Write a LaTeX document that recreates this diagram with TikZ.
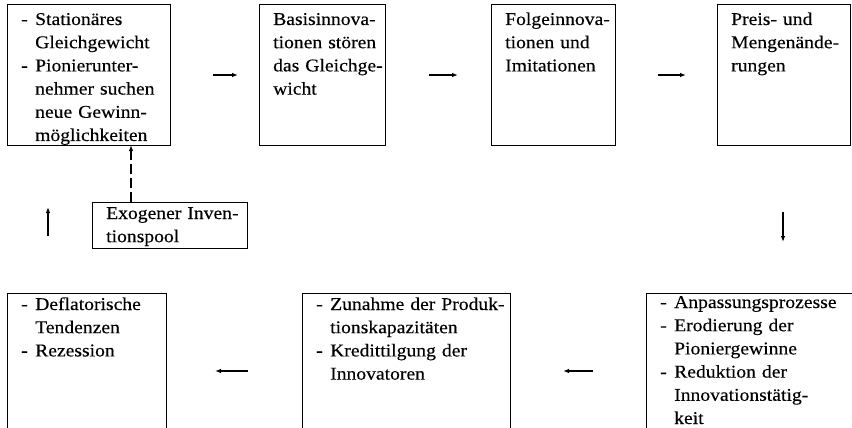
\documentclass[tikz,border=0pt]{standalone}
\usepackage{fontspec}
\setmainfont[FakeBold=0.3, FakeStretch=1.09]{Liberation Serif}
\usetikzlibrary{arrows.meta,calc}
\newcommand\dsh{\makebox[14pt][l]{-}}
\newcommand\ind{\hspace*{14pt}}
\begin{document}
\begin{tikzpicture}[x=1pt,y=-1pt,
  box/.style={draw, line width=1pt, anchor=north west, inner sep=0pt, outer sep=0pt},
  txt/.style={anchor=base west, inner sep=0pt, align=left, text width=#1,
    font=\fontsize{18}{23.2}\selectfont},
  txt/.default=210pt,
  arr/.style={line width=1.1pt, -{Latex[length=6pt,width=4.5pt]}},
  dsharr/.style={arr, dash pattern=on 10pt off 4pt}]
\useasboundingbox (0,0) rectangle (852,428);
% top row
\node[box, minimum width=163pt, minimum height=140pt] (b1) at (7,5) {};
\node[box, minimum width=126pt, minimum height=140pt] (b2) at (259,5) {};
\node[box, minimum width=124pt, minimum height=140pt] (b3) at (491,5) {};
\node[box, minimum width=133pt, minimum height=140pt] (b4) at (717,5) {};
\node[txt] (t1) at (21,25) {\dsh Stationäres\\ \ind Gleichgewicht\\ \dsh Pionierunter-\\ \ind nehmer suchen\\ \ind neue Gewinn-\\ \ind möglichkeiten};
\node[txt] (t2) at (273,25) {Basisinnova-\\tionen stören\\das Gleichge-\\wicht};
\node[txt] (t3) at (505,25) {Folgeinnova-\\tionen und\\Imitationen};
\node[txt] (t4) at (731,25) {Preis- und\\Mengenände-\\rungen};
% middle
\node[box, minimum width=155pt, minimum height=46pt] (exo) at (92,202) {};
\node[txt] (t5) at (106,219) {Exogener Inven-\\tionspool};
% bottom row
\node[box, minimum width=159pt, minimum height=150pt] (b5) at (7,293) {};
\node[box, minimum width=208pt, minimum height=150pt] (b6) at (302,293) {};
\node[box, minimum width=215pt, minimum height=150pt] (b7) at (646,293) {};
\node[txt] (t6) at (21,310) {\dsh Deflatorische\\ \ind Tendenzen\\ \dsh Rezession};
\node[txt] (t7) at (316,310) {\dsh Zunahme der Produk-\\ \ind tionskapazitäten\\ \dsh Kredittilgung der\\ \ind Innovatoren};
\node[txt] (t8) at (660,308) {\dsh Anpassungsprozesse\\ \dsh Erodierung der\\ \ind Pioniergewinne\\ \dsh Reduktion der\\ \ind Innovationstätig-\\ \ind keit};
% connectors
\draw[arr, shorten <=43pt, shorten >=21pt] (b1.east) -- (b2.west);
\draw[arr, shorten <=44pt, shorten >=33pt] (b2.east) -- (b3.west);
\draw[arr, shorten <=43pt, shorten >=31pt] (b3.east) -- (b4.west);
\coordinate (dn) at (783,0);
\draw[arr, shorten <=67pt, shorten >=51pt] (b4.south -| dn) -- (b7.north -| dn);
\draw[arr, shorten <=53pt, shorten >=53pt] ([yshift=-3pt]b7.west) -- ([yshift=-3pt]b6.east);
\draw[arr, shorten <=54pt, shorten >=49pt] ([yshift=-3pt]b6.west) -- ([yshift=-3pt]b5.east);
\coordinate (up) at (48,0);
\draw[arr, shorten <=57pt, shorten >=62pt] (b5.north -| up) -- (b1.south -| up);
\coordinate (ds) at (131,0);
\draw[dsharr] (exo.north -| ds) -- (b1.south -| ds);
\end{tikzpicture}
\end{document}
